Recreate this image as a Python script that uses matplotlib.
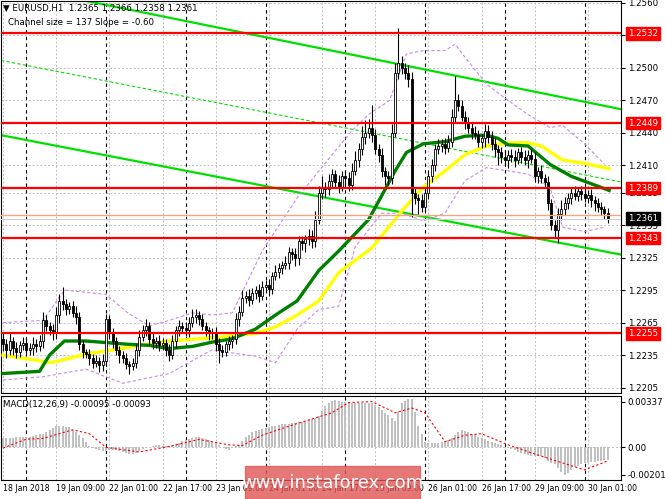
import matplotlib.pyplot as plt
import numpy as np

# closes in pips above 1.2200, one per H1 candle (18 Jan 17:00 -> 30 Jan 07:00)
first_open = 50
closes = [45, 40, 48, 42, 38, 44, 46, 40, 42, 45,
          43, 48, 67, 62, 58, 55, 72, 85, 82, 78,
          80, 74, 70, 45, 38, 36, 32, 28, 30, 26,
          30, 68, 55, 48, 40, 35, 32, 27, 25, 28,
          40, 52, 58, 62, 50, 46, 48, 44, 46, 40,
          35, 48, 58, 62, 60, 58, 65, 70, 72, 68,
          62, 58, 55, 56, 45, 40, 38, 45, 48, 50,
          68, 75, 88, 90, 86, 92, 95, 90, 98, 100,
          96, 108, 112, 115, 118, 120, 130, 128, 125, 140,
          138, 142, 145, 140, 160, 185, 190, 188, 196, 202,
          195, 190, 200, 198, 192, 205, 215, 225, 236, 240,
          245, 238, 225, 220, 205, 200, 198, 240, 295, 305,
          300, 295, 290, 185, 180, 178, 172, 185, 200, 210,
          225, 228, 230, 226, 232, 255, 270, 265, 255, 250,
          245, 240, 238, 232, 235, 242, 236, 230, 225, 222,
          218, 215, 220, 218, 215, 222, 218, 215, 220, 216,
          200, 205, 198, 195, 175, 155, 150, 165, 170, 175,
          180, 185, 182, 186, 184, 180, 183, 178, 175, 172,
          170, 166, 161]
wick_up = [6, 5, 8, 4, 5, 4, 6, 5, 4, 7,
           5, 6, 8, 5, 4, 6, 7, 6, 13, 5,
           4, 5, 6, 5, 4, 3, 5, 4, 5, 3,
           6, 5, 4, 5, 4, 3, 4, 5, 3, 4,
           5, 6, 5, 6, 4, 5, 4, 6, 5, 4,
           5, 6, 4, 5, 4, 6, 5, 8, 6, 4,
           5, 4, 3, 4, 5, 6, 4, 3, 5, 4,
           6, 5, 7, 4, 6, 5, 4, 6, 5, 4,
           5, 4, 6, 5, 4, 6, 5, 4, 6, 5,
           5, 4, 6, 5, 8, 6, 10, 5, 6, 5,
           4, 6, 5, 5, 6, 7, 8, 6, 10, 12,
           8, 21, 6, 5, 6, 4, 5, 8, 10, 32,
           6, 5, 8, 6, 5, 4, 6, 5, 6, 6,
           5, 6, 4, 5, 6, 7, 23, 6, 5, 5,
           5, 4, 6, 5, 4, 6, 5, 6, 5, 4,
           5, 6, 4, 5, 6, 4, 5, 6, 4, 5,
           6, 4, 5, 4, 5, 4, 5, 6, 8, 6,
           5, 4, 6, 4, 5, 6, 4, 5, 4, 5,
           4, 3, 5]
wick_dn = [6, 8, 5, 7, 6, 5, 4, 6, 5, 7,
           5, 4, 6, 5, 4, 6, 5, 7, 5, 6,
           5, 4, 6, 5, 6, 4, 6, 5, 4, 7,
           6, 4, 5, 6, 5, 7, 4, 5, 7, 4,
           5, 6, 4, 5, 6, 5, 4, 5, 4, 6,
           5, 4, 6, 5, 4, 5, 6, 4, 5, 5,
           4, 5, 6, 5, 6, 12, 5, 4, 5, 6,
           5, 6, 4, 5, 6, 4, 5, 6, 4, 5,
           6, 5, 4, 6, 5, 4, 6, 5, 8, 7,
           6, 8, 5, 6, 5, 4, 6, 7, 5, 6,
           6, 5, 4, 7, 6, 5, 4, 6, 5, 6,
           5, 6, 4, 7, 6, 8, 6, 5, 4, 5,
           6, 5, 8, 23, 6, 13, 5, 4, 6, 5,
           5, 4, 6, 5, 4, 5, 6, 5, 4, 6,
           5, 6, 4, 5, 6, 8, 5, 6, 7, 12,
           6, 5, 7, 5, 6, 4, 6, 5, 7, 4,
           5, 6, 4, 5, 6, 5, 6, 12, 5, 6,
           5, 6, 4, 5, 6, 4, 5, 6, 7, 5,
           6, 5, 4]

# moving averages and envelope (candle index, pips)
ma_green_x = [0, 11, 14, 18.5, 25, 37.5, 44, 50, 57, 63, 69, 76, 82, 88.5, 95, 101, 110, 115,
              118, 121.4, 126.5, 133, 139, 145.5, 149, 152, 158, 164.6, 171, 182.4]
ma_green_y = [18, 20, 35, 48, 48, 45, 44, 41, 43, 47, 50, 59, 72, 85, 113, 131, 160, 188,
              205, 222, 230, 232, 237, 238, 235, 229, 228, 211, 200, 187]
ma_yellow_x = [0, 14.6, 25, 37.5, 50, 63, 76, 82, 88.5, 95, 101, 111, 120, 126.5, 133,
               139, 145.5, 152, 158, 162, 168.4, 175, 182.4]
ma_yellow_y = [35, 28, 36, 42, 48, 51, 55, 61, 72, 85, 111, 134, 168, 190, 205,
               220, 228, 231, 231, 228, 215, 212, 207]
env_up_x = [0, 12, 18.5, 31, 37.5, 44, 50, 57, 63, 69, 78, 88.5, 98.5, 105, 110, 116.3,
            121.4, 126.5, 133, 136, 139, 145.5, 152, 158, 164.6, 168.4, 175, 181]
env_up_y = [65, 67, 95, 91, 74, 62, 67, 74, 72, 74, 131, 180, 218, 242, 257, 270,
            313, 316, 316, 322, 310, 285, 270, 257, 245, 247, 230, 211]
env_dn_x = [0, 12, 25, 36, 50, 63, 69, 76, 82, 88.5, 95, 101, 106, 114, 120, 126.5, 133,
            139, 145.5, 152, 158, 164.6, 168.4, 175, 181]
env_dn_y = [12, 15, 22, 9, 18, 40, 37, 34, 28, 59, 77, 80, 135, 166, 166, 159, 166,
            196, 208, 205, 202, 190, 153, 149, 153]

# MACD histogram (1e-5 units) and signal line
macd_hist = [66, 68, 70, 72, 74, 75, 77, 78, 80, 84,
             90, 96, 101, 115, 130, 145, 155, 160, 158, 152,
             148, 130, 110, 88, 66, 40, 7, -5, -15, -22,
             -28, -26, -22, -19, -17, -25, -33, -40, -45, -47,
             -38, -25, -12, -5, 5, 12, 19, 15, 10, 8,
             7, 15, 25, 35, 45, 54, 62, 70, 75, 78,
             72, 62, 52, 42, 30, 15, 0, -10, -17, -5,
             8, 19, 45, 78, 95, 110, 118, 125, 135, 145,
             150, 155, 160, 165, 170, 172, 175, 178, 182, 184,
             190, 195, 200, 210, 220, 231, 265, 302, 325, 340,
             349, 345, 337, 335, 332, 330, 328, 325, 324, 326,
             326, 325, 315, 295, 275, 255, 235, 215, 196, 260,
             325, 345, 355, 360, 260, 160, 100, 42, 35, 30,
             30, 35, 42, 48, 54, 70, 95, 115, 125, 120,
             110, 100, 90, 80, 70, 60, 50, 42, 35, 25,
             15, 5, 0, -10, -20, -30, -40, -52, -56, -60,
             -62, -63, -64, -80, -100, -115, -123, -150, -180, -205,
             -190, -165, -146, -135, -125, -118, -114, -110, -105, -100,
             -97, -95, -94]
sig_x = [0, 7, 12, 21, 26, 31, 41, 50, 59, 68, 72, 78, 88, 99, 104, 111, 118, 123, 127,
         133, 139, 144, 152, 162, 168, 175, 182]
sig_y = [-5, 61, 66, 130, 101, 0, -33, 7, 59, 19, 14, 90, 172, 255, 330, 337, 255, 290, 255,
         42, 90, 101, 19, -64, -111, -165, -99]

levels = [1.2532, 1.2449, 1.2389, 1.2343, 1.2255]
channel_up = ([24.9, 185.9], [1.2562, 1.2462])
channel_dn = ([-0.6, 188.9], [1.2438, 1.2326])
channel_mid = ([-0.6, 188.9], [1.2507, 1.2393])
last_price = 1.2361
ask_line = 1.2364

time_labels = ['18 Jan 2018', '19 Jan 09:00', '22 Jan 01:00', '22 Jan 17:00', '23 Jan 09:00',
               '24 Jan 01:00', '24 Jan 17:00', '25 Jan 09:00', '26 Jan 01:00', '26 Jan 17:00',
               '29 Jan 09:00', '30 Jan 01:00']
time_label_idx = [0, 16, 32, 48, 64, 80, 96, 112, 128, 144, 160, 176]
day_sep_idx = [7, 31, 55, 79, 103, 127, 151, 175]
price_ticks = [1.2560, 1.2530, 1.2500, 1.2470, 1.2440, 1.2410, 1.2385, 1.2355, 1.2325,
               1.2295, 1.2265, 1.2235, 1.2205]

base = 1.2200
c = base + np.array(closes) / 10000
o = np.concatenate([[base + first_open / 10000], c[:-1]])
hi = np.maximum(o, c) + np.array(wick_up) / 10000
lo = np.minimum(o, c) - np.array(wick_dn) / 10000
idx = np.arange(len(closes))

fig = plt.figure(figsize=(6.65, 4.99), dpi=100)
ax = fig.add_axes([0.0015, 0.2124, 0.932, 0.786])
ax2 = fig.add_axes([0.0015, 0.038, 0.932, 0.168])
xlim = (-0.6, 185.9)

for a in (ax, ax2):
    a.set_xlim(*xlim)
    for i in time_label_idx:
        a.axvline(i, color='#c0c0c0', ls=(0, (2, 2)), lw=0.7, zorder=0)
    for i in day_sep_idx:
        a.axvline(i, color='black', ls=(0, (3, 3)), lw=0.8, zorder=0.5)
    a.tick_params(axis='x', bottom=False, labelbottom=False)
    a.yaxis.tick_right()
    a.tick_params(axis='y', labelsize=6.2, length=3, pad=2)

ax.set_ylim(1.2200, 1.2562)
ax.set_yticks(price_ticks)
ax.set_yticklabels([f'{v:.4f}' for v in price_ticks])
for v in price_ticks:
    ax.axhline(v, color='#c0c0c0', ls=(0, (2, 2)), lw=0.7, zorder=0)

# channel
ax.plot(*channel_up, color='#00e000', lw=1.6, zorder=2)
ax.plot(*channel_dn, color='#00e000', lw=1.6, zorder=2)
ax.plot(*channel_mid, color='#00e000', lw=0.8, ls=(0, (3, 2)), zorder=2)

# envelopes and MAs
ax.plot(env_up_x, base + np.array(env_up_y) / 10000, color='#cc88ee', lw=0.8, ls=(0, (3, 2)), zorder=2)
ax.plot(env_dn_x, base + np.array(env_dn_y) / 10000, color='#cc88ee', lw=0.8, ls=(0, (3, 2)), zorder=2)
ax.plot(ma_yellow_x, base + np.array(ma_yellow_y) / 10000, color='#ffff00', lw=2.4, zorder=3)
ax.plot(ma_green_x, base + np.array(ma_green_y) / 10000, color='#008000', lw=2.4, zorder=3)

# candles
ax.vlines(idx, lo, hi, color='black', lw=0.8, zorder=4)
up = c >= o
ax.bar(idx[up], (c - o)[up], bottom=o[up], width=0.6, color='white', edgecolor='black', lw=0.6, zorder=5)
ax.bar(idx[~up], (o - c)[~up], bottom=c[~up], width=0.6, color='black', edgecolor='black', lw=0.6, zorder=5)

# levels
for lv in levels:
    ax.axhline(lv, color='#ff0000', lw=1.6, zorder=6)
    ax.text(1.012, lv, f'{lv:.4f}', transform=ax.get_yaxis_transform(), fontsize=6.2, color='white',
            va='center', ha='left', zorder=10, clip_on=False,
            bbox=dict(boxstyle='square,pad=0.2', fc='#ff0000', ec='#ff0000'))
ax.axhline(ask_line, color='#f4a582', lw=1.0, zorder=6)
ax.axhline(last_price, color='#d0d0d0', lw=0.8, zorder=6)
ax.text(1.012, last_price, f'{last_price:.4f}', transform=ax.get_yaxis_transform(), fontsize=6.2,
        color='white', va='center', ha='left', zorder=10, clip_on=False,
        bbox=dict(boxstyle='square,pad=0.2', fc='black', ec='black'))

ax.text(0.004, 0.993, '▼ EURUSD,H1  1.2365 1.2366 1.2358 1.2361', transform=ax.transAxes,
        fontsize=6.2, va='top', ha='left')
ax.text(0.012, 0.955, 'Channel size = 137 Slope = -0.60', transform=ax.transAxes,
        fontsize=6.2, va='top', ha='left')

# MACD
hist = np.array(macd_hist) / 1e5
ax2.bar(idx, hist, width=0.6, color='#c0c0c0', zorder=2)
ax2.plot(sig_x, np.array(sig_y) / 1e5, color='#ff0000', lw=0.8, ls=(0, (2, 2)), zorder=3)
ax2.set_ylim(-0.0024, 0.00377)
ax2.set_yticks([0.00337, 0.0, -0.00201])
ax2.set_yticklabels(['0.00337', '0.00', '-0.00201'])
ax2.axhline(0, color='#c0c0c0', ls=(0, (2, 2)), lw=0.7, zorder=0)
ax2.text(0.004, 0.96, 'MACD(12,26,9) -0.00095 -0.00093', transform=ax2.transAxes,
         fontsize=6.2, va='top', ha='left')

for i, lab in zip(time_label_idx, time_labels):
    ax2.text(i, -0.05, lab, transform=ax2.get_xaxis_transform(), fontsize=5.6,
             va='top', ha='left', clip_on=False)

# watermark
fig.patches.append(plt.Rectangle((245 / 665, 0), 175 / 665, 33 / 499, transform=fig.transFigure,
                                 color='#e05555', alpha=0.8, zorder=20))
fig.text(332 / 665, 16 / 499, 'www.instaforex.com', color='white', fontsize=13,
         ha='center', va='center', zorder=21)

fig.savefig('out.png', dpi=100)
